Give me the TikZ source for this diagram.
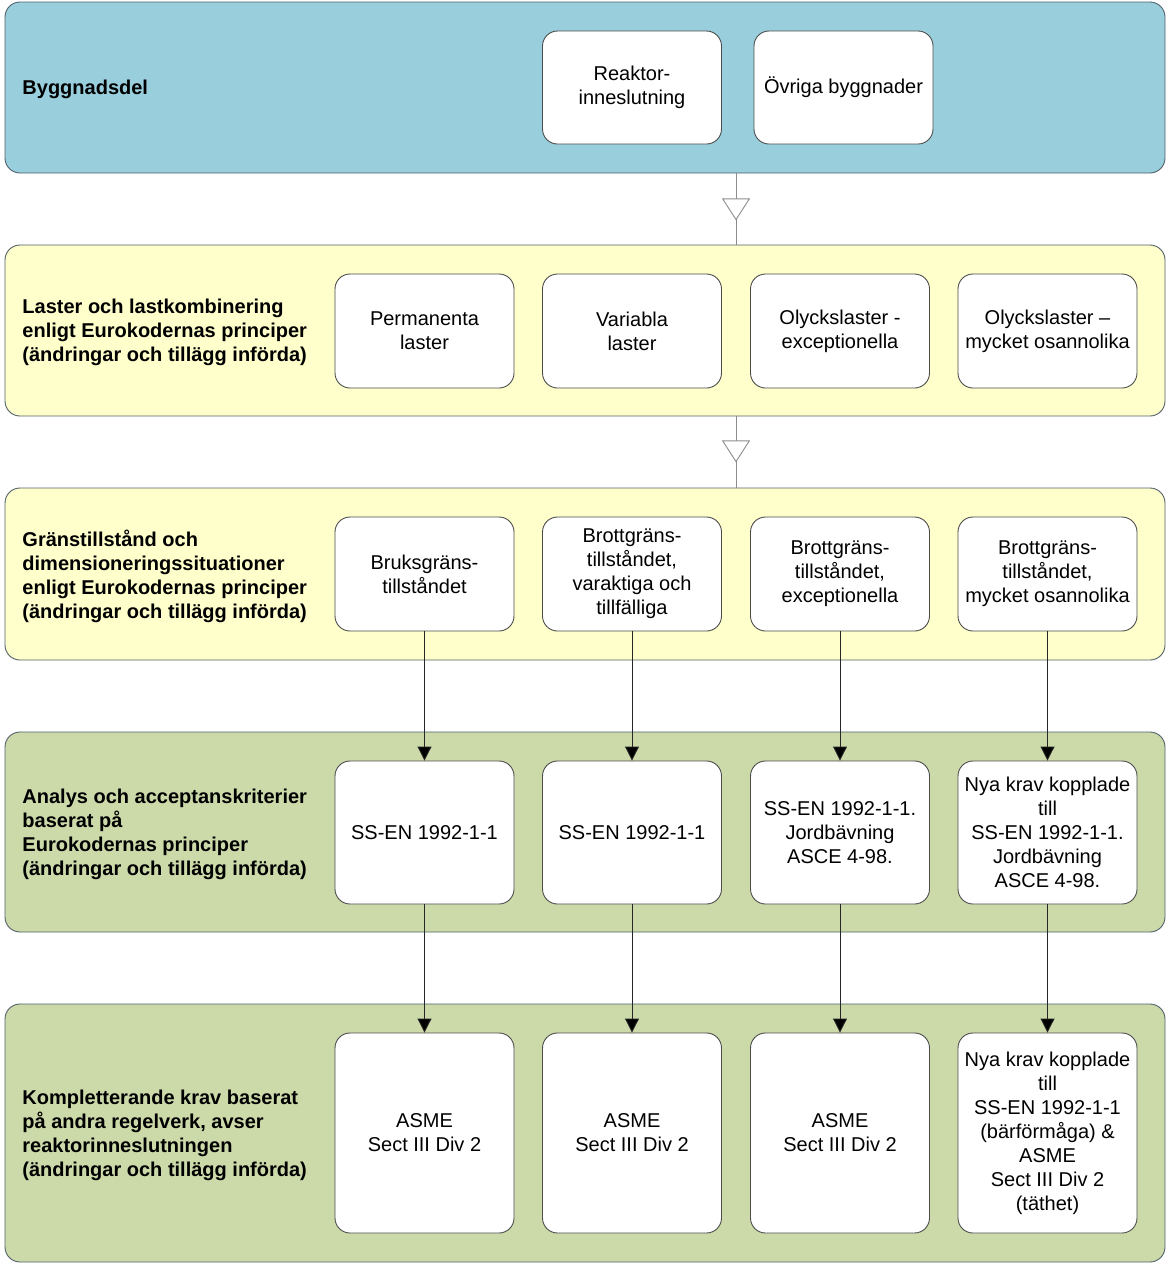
\documentclass[tikz,border=0pt]{standalone}
\usepackage{fontspec}
\setmainfont{Liberation Sans}
\usetikzlibrary{arrows.meta}

\definecolor{bandblue}{RGB}{153,207,221}
\definecolor{bandyellow}{RGB}{255,255,204}
\definecolor{bandgreen}{RGB}{204,218,170}
\definecolor{bandedge}{RGB}{80,96,104}

\begin{document}
\begin{tikzpicture}[x=1pt, y=-1pt, line width=0.9pt,
	every node/.style={font=\fontsize{20}{24}\selectfont},
	band/.style={draw=bandedge, rounded corners=15pt, minimum width=1160pt, inner sep=0pt},
	rubrik/.style={anchor=west, align=left, inner sep=0pt, yshift=-2pt, font=\fontsize{20}{24}\selectfont\bfseries},
	ruta/.style={draw=black!70, fill=white, rounded corners=15pt, minimum width=179pt, align=center, inner sep=2pt},
	flow/.style={black!85, -{Triangle[length=14pt, width=14pt, fill=black]}},
	bandline/.style={black!45}]
	\useasboundingbox (0,0) rectangle (1167,1264);

	% lagren
	\node[band, fill=bandblue, minimum height=171pt] (byggnad) at (585,87.5) {};
	\node[band, fill=bandyellow, minimum height=171pt] (laster) at (585,330.5) {};
	\node[band, fill=bandyellow, minimum height=172pt] (grans) at (585,574) {};
	\node[band, fill=bandgreen, minimum height=200pt] (analys) at (585,832) {};
	\node[band, fill=bandgreen, minimum height=258pt] (komplett) at (585,1133) {};

	\node[rubrik] (r1) at (22,87.5) {Byggnadsdel};
	\node[rubrik] (r2) at (22,330.5) {Laster och lastkombinering\\enligt Eurokodernas principer\\(ändringar och tillägg införda)};
	\node[rubrik] (r3) at (22,574) {Gränstillstånd och\\dimensioneringssituationer\\enligt Eurokodernas principer\\(ändringar och tillägg införda)};
	\node[rubrik] (r4) at (22,832) {Analys och acceptanskriterier\\baserat på\\Eurokodernas principer\\(ändringar och tillägg införda)};
	\node[rubrik] (r5) at (22,1133) {Kompletterande krav baserat\\på andra regelverk, avser\\reaktorinneslutningen\\(ändringar och tillägg införda)};

	% rutor
	\node[ruta, minimum height=113pt] (reaktor) at (632,87.5) {Reaktor-\\inneslutning};
	\node[ruta, minimum height=113pt] (ovriga) at (843.5,87.5) {Övriga byggnader};

	\node[ruta, minimum height=114pt] (l1) at (424.5,331) {Permanenta\\laster};
	\node[ruta, minimum height=114pt] (l2) at (632,331) {Variabla\\laster};
	\node[ruta, minimum height=114pt] (l3) at (840,331) {Olyckslaster -\\exceptionella};
	\node[ruta, minimum height=114pt] (l4) at (1047.5,331) {Olyckslaster –\\mycket osannolika};

	\node[ruta, minimum height=114pt] (g1) at (424.5,574) {Bruksgräns-\\tillståndet};
	\node[ruta, minimum height=114pt] (g2) at (632,574) {Brottgräns-\\tillståndet,\\varaktiga och\\tillfälliga};
	\node[ruta, minimum height=114pt] (g3) at (840,574) {Brottgräns-\\tillståndet,\\exceptionella};
	\node[ruta, minimum height=114pt] (g4) at (1047.5,574) {Brottgräns-\\tillståndet,\\mycket osannolika};

	\node[ruta, minimum height=143pt] (a1) at (424.5,832.5) {SS-EN 1992-1-1};
	\node[ruta, minimum height=143pt] (a2) at (632,832.5) {SS-EN 1992-1-1};
	\node[ruta, minimum height=143pt] (a3) at (840,832.5) {SS-EN 1992-1-1.\\Jordbävning\\ASCE 4-98.};
	\node[ruta, minimum height=143pt] (a4) at (1047.5,832.5) {Nya krav kopplade\\till\\SS-EN 1992-1-1.\\Jordbävning\\ASCE 4-98.};

	\node[ruta, minimum height=200pt] (k1) at (424.5,1133) {ASME\\Sect III Div 2};
	\node[ruta, minimum height=200pt] (k2) at (632,1133) {ASME\\Sect III Div 2};
	\node[ruta, minimum height=200pt] (k3) at (840,1133) {ASME\\Sect III Div 2};
	\node[ruta, minimum height=200pt] (k4) at (1047.5,1133) {Nya krav kopplade\\till\\SS-EN 1992-1-1\\(bärförmåga) \&\\ASME\\Sect III Div 2\\(täthet)};

	% kopplingar mellan lagren
	\coordinate (knut) at (736,0);
	\draw[bandline] (byggnad.south -| knut) -- (laster.north -| knut);
	\draw[bandline, -{Triangle[length=22pt, width=28pt, fill=white]}] (byggnad.south -| knut) -- ++(0,47);
	\draw[bandline] (laster.south -| knut) -- (grans.north -| knut);
	\draw[bandline, -{Triangle[length=22pt, width=28pt, fill=white]}] (laster.south -| knut) -- ++(0,46);

	\foreach \i in {1,...,4} {
		\draw[flow] (g\i) -- (a\i);
		\draw[flow] (a\i) -- (k\i);
	}
\end{tikzpicture}
\end{document}
